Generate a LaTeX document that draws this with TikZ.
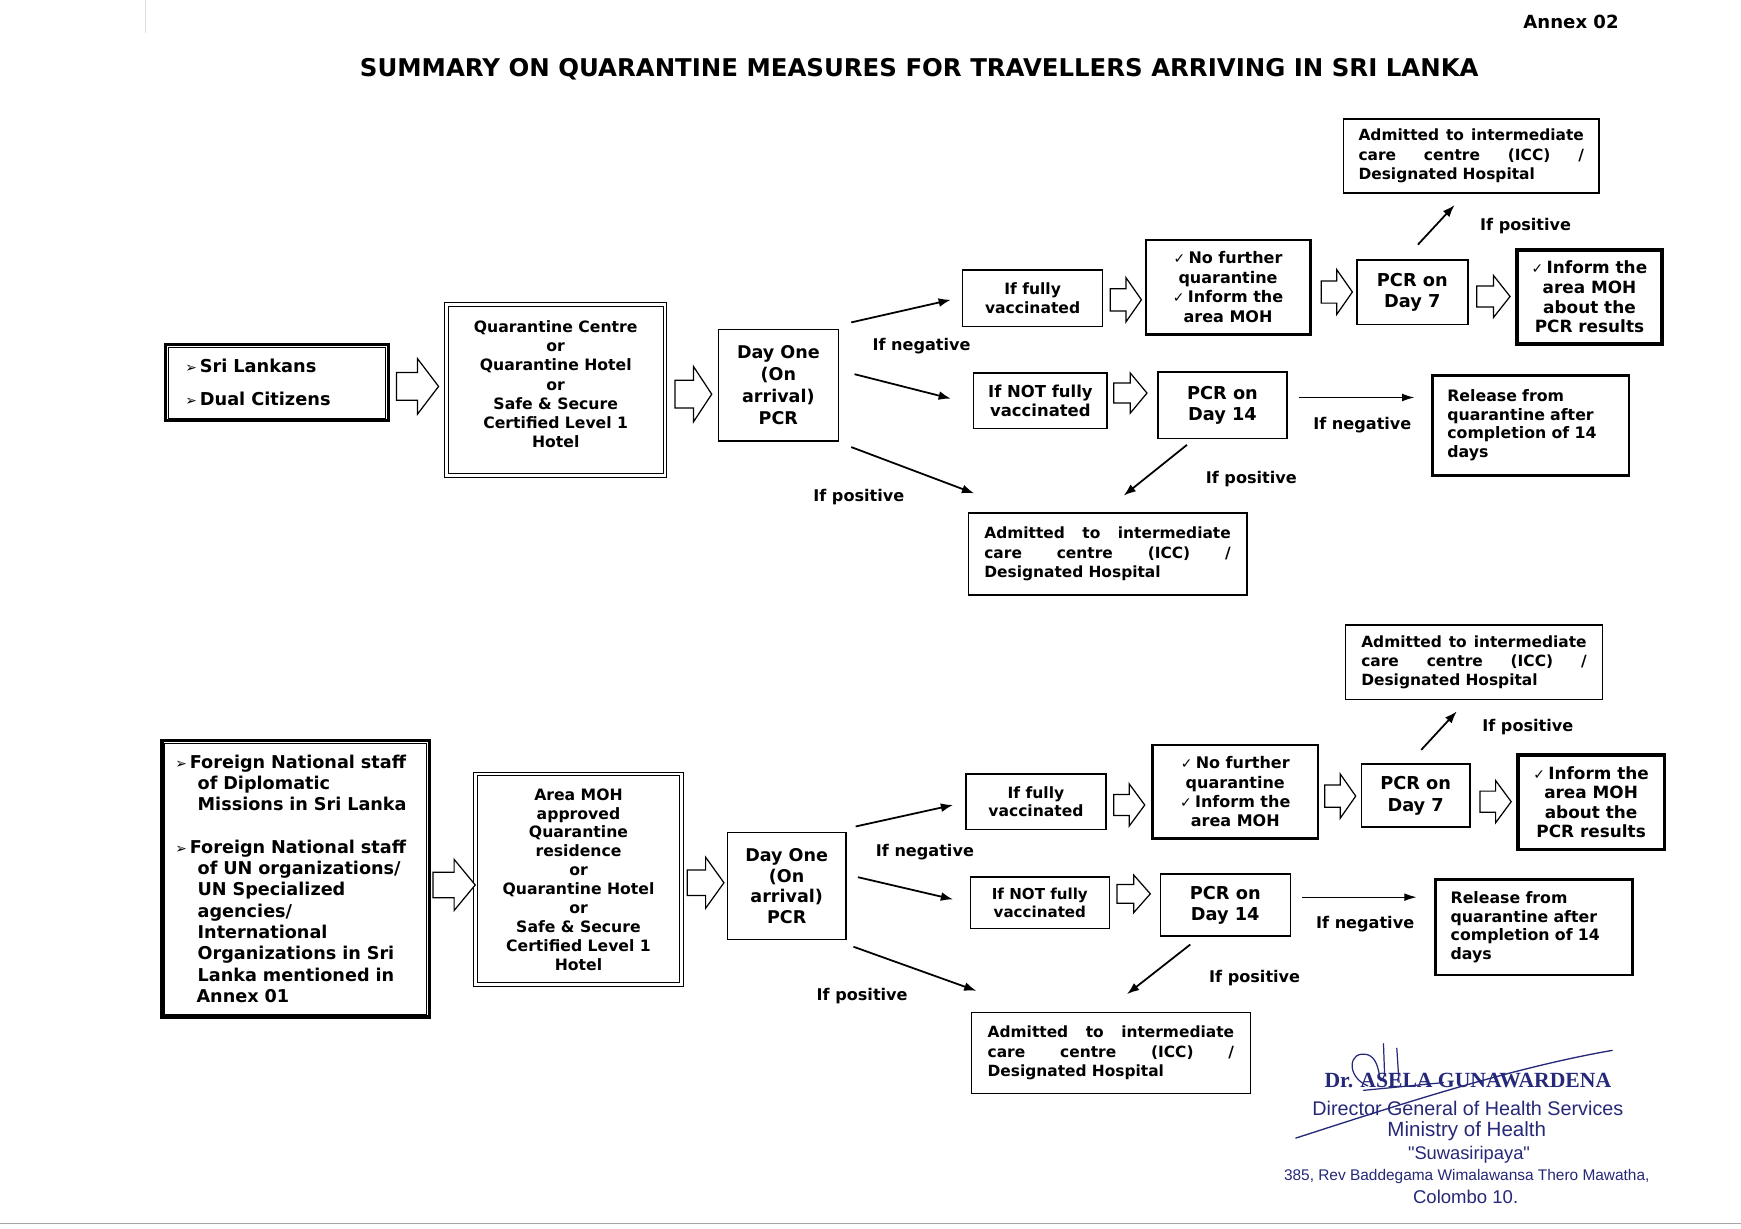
\documentclass[tikz,border=0pt]{standalone}
\usepackage{fontspec}
\setmainfont{DejaVu Sans}
\newfontfamily\sigserif{Liberation Serif}
\newfontfamily\sigsans{Liberation Sans}
\usetikzlibrary{arrows.meta}
\newcommand\fsz[2]{\fontsize{#1}{#2}\selectfont\bfseries}
\newcommand\ckm{{\mdseries\fontsize{12.5}{10}\selectfont ✓}\hspace{3pt}}
\newcommand\bul{\makebox[13pt][l]{\mdseries\fontsize{12.5}{12}\selectfont ➢}}
\definecolor{sigc}{RGB}{38,40,120}
\newcommand\harr[5]{%
 \coordinate (#1) at ({(#2+#3)/2},#4);
 \draw[hol] (#2,{#4-0.25*#5}) -- ({(#2+#3)/2},{#4-0.25*#5}) -- ({(#2+#3)/2},{#4-0.5*#5}) -- (#3,#4) -- ({(#2+#3)/2},{#4+0.5*#5}) -- ({(#2+#3)/2},{#4+0.25*#5}) -- (#2,{#4+0.25*#5}) -- cycle;}
\tikzset{
 bx/.style={draw, line width=1.3pt, align=center, inner sep=0pt},
 bxt/.style={bx, line width=2.4pt},
 bxtt/.style={bx, line width=3.2pt},
 bxd/.style={bx, double, double distance=2.5pt, line width=0.9pt},
 bxo/.style={bx, line width=3pt},
 con/.style={-{Latex[length=11pt,width=8pt]}, line width=1.6pt},
 conthin/.style={-{Latex[length=11pt,width=7pt]}, line width=1.1pt},
 lbl/.style={font=\fsz{14.5}{17}, inner sep=0pt},
 hol/.style={line width=1.1pt, fill=white, line join=miter},
 adm/.style={bx, align=left, font=\fsz{13.9}{17.5}},
}
\begin{document}
\begin{tikzpicture}[x=1pt,y=-1pt]
\path[use as bounding box, fill=white] (0,0) rectangle (1568,1106);

\node[anchor=east, font=\fsz{16.3}{18}, inner sep=0pt] (annex) at (1458,20) {Annex 02};
\node[font=\fsz{22}{24}, inner sep=0pt] (title) at (828,62) {SUMMARY ON QUARANTINE MEASURES FOR TRAVELLERS ARRIVING IN SRI LANKA};

% ---------------- top flow ----------------
\node[bxo, minimum width=201pt, minimum height=69pt, text width=165pt, align=left, font=\fsz{16}{30}] (sl) at (249.5,344.5) {\bul Sri Lankans\\\bul Dual Citizens};
\draw[line width=0.8pt] ([shift={(4pt,-4pt)}]sl.north west) rectangle ([shift={(-4pt,4pt)}]sl.south east);
\node[bxd, minimum width=197pt, minimum height=154pt, font=\fsz{14.1}{17.3}] (qc) at (500.5,351) {Quarantine Centre\\or\\Quarantine Hotel\\or\\Safe \& Secure\\Certified Level 1\\Hotel\rule[-10pt]{0pt}{10pt}};
\node[bx, minimum width=108pt, minimum height=100pt, font=\fsz{15.8}{19.7}] (d1) at (701,347) {Day One\\(On\\arrival)\\PCR};
\node[bx, minimum width=126pt, minimum height=51pt, font=\fsz{14}{17}] (fv) at (930,268.5) {If fully\\vaccinated};
\node[bxt, minimum width=148pt, minimum height=85pt, font=\fsz{14.4}{17.7}] (nf) at (1106,258.5) {\ckm No further\\quarantine\\\ckm Inform the\\area MOH};
\node[bx, minimum width=100pt, minimum height=58pt, font=\fsz{16}{19}] (p7) at (1272,263) {PCR on\\Day 7};
\node[bxtt, minimum width=131pt, minimum height=85pt, font=\fsz{15.2}{17.7}] (inf) at (1431.5,267.5) {\ckm Inform the\\area MOH\\about the\\PCR results};
\node[adm, minimum width=230pt, minimum height=67pt, text width=203pt] (at1) at (1325,140.5) {Admitted\hfill to\hfill intermediate\\care\hfill centre\hfill (ICC)\hfill /\\Designated Hospital};
\node[bx, minimum width=120pt, minimum height=50pt, font=\fsz{14.8}{17}] (nfv) at (937,361) {If NOT fully\\vaccinated};
\node[bx, minimum width=116pt, minimum height=60pt, font=\fsz{16}{19.5}] (p14) at (1101,365) {PCR on\\Day 14};
\node[bxt, minimum width=177pt, minimum height=90pt, text width=150pt, align=left, font=\fsz{14.2}{17}] (rel) at (1378.5,383) {Release from\\quarantine after\\completion of 14\\days};
\node[adm, minimum width=251pt, minimum height=74pt, text width=222pt] (ad1) at (997.5,499) {Admitted\hfill to\hfill intermediate\\care\hfill centre\hfill (ICC)\hfill /\\Designated Hospital};

\harr{h1}{357}{395}{348}{50}
\harr{h2}{608}{641}{355}{50}
\harr{h3}{1000}{1028}{270}{40}
\harr{h4}{1190}{1218}{263}{40}
\harr{h5}{1330}{1360}{267}{38}
\harr{h6}{1003}{1033}{354}{36}

\draw[con] ([shift={(11,-6)}]d1.north east) -- ([shift={(-10,1.5)}]fv.west);
\draw[con] ([shift={(14,-10)}]d1.east) -- ([shift={(-20,-2)}]nfv.west);
\draw[con] ([shift={(11,5)}]d1.south east) -- ([shift={(6,-17)}]ad1.north west);
\draw[con] ([shift={(-32,5)}]p14.south) -- ([shift={(14.5,-15)}]ad1.north);
\draw[conthin] ([shift={(10,-7)}]p14.east) -- ([shift={(-15,-25)}]rel.west);
\draw[con] ([shift={(5,-13)}]p7.north) -- ([shift={(-15,10)}]at1.south);

\node[lbl] (l1) at (830,312) {If negative};
\node[lbl] (l2) at (773.5,448) {If positive};
\node[lbl] (l3) at (1127,431) {If positive};
\node[lbl] (l4) at (1227,383) {If negative};
\node[lbl] (l5) at (1374,204) {If positive};

% ---------------- bottom flow ----------------
\node[bxo, minimum width=241pt, minimum height=249pt, text width=217pt, align=left, font=\fsz{15.9}{19.2}] (fn) at (266.5,791.5) {\bul Foreign National staff\\\hspace*{20pt}of Diplomatic\\\hspace*{20pt}Missions in Sri Lanka\\[19pt]\bul Foreign National staff\\\hspace*{20pt}of UN organizations/\\\hspace*{20pt}UN Specialized\\\hspace*{20pt}agencies/\\\hspace*{20pt}International\\\hspace*{20pt}Organizations in Sri\\\hspace*{20pt}Lanka mentioned in\\\hspace*{19pt}Annex 01};
\draw[line width=0.8pt] ([shift={(4pt,-4pt)}]fn.north west) rectangle ([shift={(-4pt,4pt)}]fn.south east);
\node[bxd, minimum width=186pt, minimum height=190pt, font=\fsz{14.1}{17}] (am) at (521,792) {Area MOH\\approved\\Quarantine\\residence\\or\\Quarantine Hotel\\or\\Safe \& Secure\\Certified Level 1\\Hotel};
\node[bx, minimum width=107pt, minimum height=96pt, font=\fsz{15.8}{18.7}] (d2) at (708.5,798) {Day One\\(On\\arrival)\\PCR};
\node[bx, minimum width=126pt, minimum height=50pt, font=\fsz{14}{17}] (fv2) at (933,722) {If fully\\vaccinated};
\node[bxt, minimum width=149pt, minimum height=84pt, font=\fsz{14.4}{17.2}] (nf2) at (1112.5,713) {\ckm No further\\quarantine\\\ckm Inform the\\area MOH};
\node[bx, minimum width=98pt, minimum height=57pt, font=\fsz{16}{19.5}] (p72) at (1275,716.5) {PCR on\\Day 7};
\node[bxtt, minimum width=132pt, minimum height=85pt, font=\fsz{15.2}{17.4}] (inf2) at (1433,722.5) {\ckm Inform the\\area MOH\\about the\\PCR results};
\node[adm, minimum width=231pt, minimum height=67pt, text width=203pt] (at2) at (1327.5,596.5) {Admitted\hfill to\hfill intermediate\\care\hfill centre\hfill (ICC)\hfill /\\Designated Hospital};
\node[bx, minimum width=125pt, minimum height=46pt, font=\fsz{13.6}{16.5}] (nfv2) at (936.5,813) {If NOT fully\\vaccinated};
\node[bx, minimum width=117pt, minimum height=56pt, font=\fsz{16}{19}] (p142) at (1103.5,815) {PCR on\\Day 14};
\node[bxt, minimum width=177pt, minimum height=86pt, text width=150pt, align=left, font=\fsz{14.2}{16.7}] (rel2) at (1381.5,835) {Release from\\quarantine after\\completion of 14\\days};
\node[adm, minimum width=251pt, minimum height=73pt, text width=222pt] (ad2) at (1000.5,948.5) {Admitted\hfill to\hfill intermediate\\care\hfill centre\hfill (ICC)\hfill /\\Designated Hospital};

\harr{h7}{390}{428}{797}{46}
\harr{h8}{619}{652}{795}{46}
\harr{h9}{1003}{1031}{725}{38}
\harr{h10}{1193}{1221}{717}{40}
\harr{h11}{1333}{1361}{722}{38}
\harr{h12}{1006}{1036}{805}{34}

\draw[con] ([shift={(8,-5)}]d2.north east) -- ([shift={(-11,3)}]fv2.west);
\draw[con] ([shift={(10,-8)}]d2.east) -- ([shift={(-15,-3)}]nfv2.west);
\draw[con] ([shift={(6,6)}]d2.south east) -- ([shift={(5,-19)}]ad2.north west);
\draw[con] ([shift={(-31.5,7)}]p142.south) -- ([shift={(14.5,-16)}]ad2.north);
\draw[conthin] ([shift={(10,-7)}]p142.east) -- ([shift={(-16,-27)}]rel2.west);
\draw[con] ([shift={(5,-12)}]p72.north) -- ([shift={(-15.5,10)}]at2.south);

\node[lbl] (l6) at (833,767) {If negative};
\node[lbl] (l7) at (776.5,897) {If positive};
\node[lbl] (l8) at (1130,881) {If positive};
\node[lbl] (l9) at (1229.5,832) {If negative};
\node[lbl] (l10) at (1376,655) {If positive};

% ---------------- signature block ----------------
\node[text=sigc, inner sep=0pt, font=\sigserif\bfseries\fontsize{19.5}{20}\selectfont] (s1) at (1322,973) {Dr. ASELA GUNAWARDENA};
\node[text=sigc, inner sep=0pt, font=\sigsans\fontsize{17.8}{19}\selectfont] (s2) at (1322,998) {Director General of Health Services};
\node[text=sigc, inner sep=0pt, font=\sigsans\fontsize{18.5}{19}\selectfont] (s3) at (1321,1019) {Ministry of Health};
\node[text=sigc, inner sep=0pt, font=\sigsans\fontsize{16.5}{17}\selectfont] (s4) at (1323,1040) {"Suwasiripaya"};
\node[text=sigc, inner sep=0pt, font=\sigsans\fontsize{13.9}{17}\selectfont] (s5) at (1321,1060) {385, Rev Baddegama Wimalawansa Thero Mawatha,};
\node[text=sigc, inner sep=0pt, font=\sigsans\fontsize{16.7}{17}\selectfont] (s6) at (1320,1078) {Colombo 10.};
\draw[sigc, line width=1.2pt, line cap=round] (1167,1025) .. controls (1260,995) and (1360,962) .. (1452,946);
\draw[sigc, line width=1.1pt, line cap=round] (1232,978) .. controls (1212,970) and (1214,945) .. (1232,950) .. controls (1246,955) and (1240,985) .. (1247,968);
\draw[sigc, line width=1.1pt, line cap=round] (1247,968) -- (1246,940);
\draw[sigc, line width=1.1pt, line cap=round] (1260,975) -- (1258,944);
\draw[sigc, line width=1.1pt, line cap=round] (1228,982) -- (1300,975);

% page edges
\draw[gray!70, line width=1.5pt] (0,1102) -- (1568,1102);
\draw[gray!25, line width=0.6pt] (131,0) -- (131,30);
\end{tikzpicture}
\end{document}
